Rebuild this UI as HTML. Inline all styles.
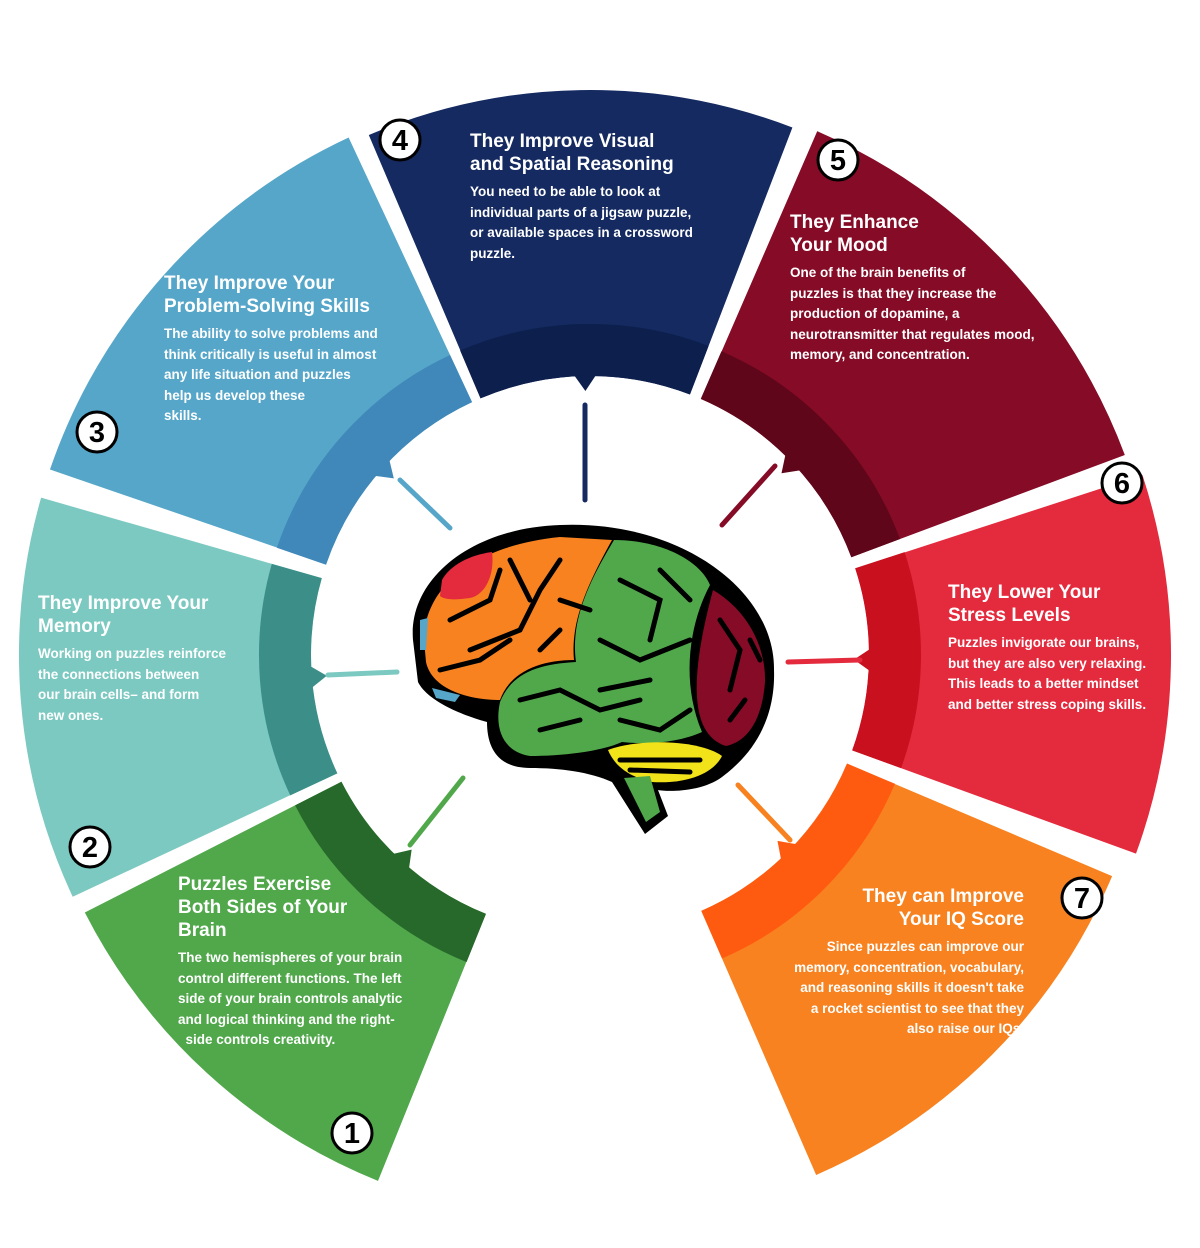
<!DOCTYPE html>
<html><head><meta charset="utf-8"><style>
html,body{margin:0;padding:0;background:#fff;}
#w{position:relative;width:1200px;height:1248px;overflow:hidden;font-family:"Liberation Sans",sans-serif;}
svg{position:absolute;left:0;top:0}
.t{position:absolute;color:#fff;}
.h{font-weight:bold;font-size:19px;line-height:23px;}
.b{font-weight:bold;font-size:13.5px;line-height:20.5px;margin-top:6px;}
.r{text-align:right}
</style></head><body><div id="w">
<svg width="1200" height="1248" viewBox="0 0 1200 1248">
<g fill="none">
<circle cx="590" cy="655" r="423" pathLength="360" stroke="#50a84b" stroke-width="288" stroke-dasharray="41 319" transform="rotate(112 590 655)"/>
<circle cx="590" cy="655" r="425" pathLength="360" stroke="#7cc9c1" stroke-width="292" stroke-dasharray="41 319" transform="rotate(155 590 655)"/>
<circle cx="590" cy="655" r="425" pathLength="360" stroke="#56a6c9" stroke-width="292" stroke-dasharray="46 314" transform="rotate(199 590 655)"/>
<circle cx="590" cy="655" r="422" pathLength="360" stroke="#142a60" stroke-width="286" stroke-dasharray="44 316" transform="rotate(247 590 655)"/>
<circle cx="590" cy="655" r="425" pathLength="360" stroke="#850b26" stroke-width="292" stroke-dasharray="46 314" transform="rotate(293.5 590 655)"/>
<circle cx="590" cy="655" r="430" pathLength="360" stroke="#e42a3d" stroke-width="302" stroke-dasharray="38 322" transform="rotate(342 590 655)"/>
<circle cx="590" cy="655" r="423" pathLength="360" stroke="#f7821f" stroke-width="288" stroke-dasharray="43.5 316.5" transform="rotate(23 590 655)"/>

<circle cx="590" cy="655" r="305" pathLength="360" stroke="#27682b" stroke-width="52" stroke-dasharray="41 319" transform="rotate(112 590 655)"/>
<circle cx="590" cy="655" r="305" pathLength="360" stroke="#3c8f88" stroke-width="52" stroke-dasharray="41 319" transform="rotate(155 590 655)"/>
<circle cx="590" cy="655" r="305" pathLength="360" stroke="#3f88b9" stroke-width="52" stroke-dasharray="46 314" transform="rotate(199 590 655)"/>
<circle cx="590" cy="655" r="305" pathLength="360" stroke="#0d1f4c" stroke-width="52" stroke-dasharray="44 316" transform="rotate(247 590 655)"/>
<circle cx="590" cy="655" r="305" pathLength="360" stroke="#5f061a" stroke-width="52" stroke-dasharray="46 314" transform="rotate(293.5 590 655)"/>
<circle cx="590" cy="655" r="305" pathLength="360" stroke="#c8101f" stroke-width="52" stroke-dasharray="38 322" transform="rotate(342 590 655)"/>
<circle cx="590" cy="655" r="305" pathLength="360" stroke="#ff5b10" stroke-width="52" stroke-dasharray="43.5 316.5" transform="rotate(23 590 655)"/>
</g>
<g>
<polygon points="280,-11 280,11 264,0" fill="#27682b" transform="translate(590 655) rotate(132.5)"/>
<polygon points="280,-11 280,11 264,0" fill="#3c8f88" transform="translate(590 655) rotate(175.5)"/>
<polygon points="280,-11 280,11 264,0" fill="#3f88b9" transform="translate(590 655) rotate(222)"/>
<polygon points="280,-11 280,11 264,0" fill="#0d1f4c" transform="translate(590 655) rotate(269)"/>
<polygon points="280,-11 280,11 264,0" fill="#5f061a" transform="translate(590 655) rotate(316.5)"/>
<polygon points="280,-11 280,11 264,0" fill="#c8101f" transform="translate(590 655) rotate(1)"/>
<polygon points="280,-11 280,11 264,0" fill="#ff5b10" transform="translate(590 655) rotate(44.75)"/>
</g>
<g stroke-width="5" stroke-linecap="round">
<line x1="410" y1="845" x2="463" y2="778" stroke="#50a84b"/>
<line x1="328" y1="675" x2="397" y2="672" stroke="#7cc9c1"/>
<line x1="400" y1="480" x2="450" y2="528" stroke="#56a6c9"/>
<line x1="585" y1="405" x2="585" y2="500" stroke="#142a60"/>
<line x1="722" y1="525" x2="775" y2="466" stroke="#850b26"/>
<line x1="788" y1="662" x2="860" y2="660" stroke="#e42a3d"/>
<line x1="738" y1="785" x2="790" y2="840" stroke="#f7821f"/>
</g>
<!-- brain -->
<path d="M413,640 C408,580 470,528 560,525 C680,520 775,590 774,670 C776,730 742,762 722,777 C702,792 668,792 658,790 L668,816 L645,834 L612,782 C590,772 560,768 530,768 C498,768 487,748 487,722 C465,716 428,702 418,682 Z" fill="#000"/>
<path d="M424,640 C424,590 470,546 560,537 L612,540 C590,580 570,620 574,660 C540,660 510,672 500,700 C470,700 432,690 426,662 Z" fill="#f7821f"/>
<path d="M442,580 C450,565 470,555 492,552 C495,575 485,595 470,598 C455,600 445,600 440,596 Z" fill="#e42a3d"/>
<path d="M420,620 L428,618 L426,650 L420,650Z M432,688 L460,695 L455,702 L436,698Z" fill="#56a6c9"/>
<path d="M614,540 C660,540 700,560 710,585 C690,622 680,680 702,732 C680,742 650,745 622,742 C600,752 560,756 530,756 C504,752 494,730 500,702 C512,672 540,664 576,662 C570,620 590,580 614,540 Z" fill="#50a84b"/>
<path d="M713,590 C750,612 766,650 765,682 C762,722 746,742 726,746 C694,736 686,690 713,590 Z" fill="#850b26"/>
<path d="M608,750 C640,738 700,740 722,756 C712,776 682,784 652,782 C630,777 615,767 608,750Z" fill="#f2e21a"/>
<path d="M624,778 L650,776 L660,812 L646,822 Z" fill="#50a84b"/>
<g stroke="#000" stroke-width="5" fill="none" stroke-linecap="round">
<path d="M450,620 L490,600 L500,570 M470,650 L520,630 L540,590 L560,560 M510,560 L530,600 M440,670 L480,660 L510,640 M560,600 L590,610 M540,650 L560,630"/>
<path d="M620,580 L660,600 L650,640 M600,640 L640,660 L690,640 M520,700 L560,690 L600,710 L640,700 M540,730 L580,720 M620,720 L660,730 L690,710 M660,570 L690,600 M600,690 L650,680"/>
<path d="M720,620 L740,650 L730,690 M745,700 L730,720 M750,640 L760,660"/>
<path d="M620,760 L700,760 M630,770 L690,772"/>
</g>
</svg>

<div class="t" style="left:470px;top:130px;width:290px"><div class="h">They Improve Visual<br>and Spatial Reasoning</div><div class="b">You need to be able to look at<br>individual parts of a jigsaw puzzle,<br>or available spaces in a crossword<br>puzzle.</div></div>
<div class="t" style="left:164px;top:272px;width:260px"><div class="h">They Improve Your<br>Problem-Solving Skills</div><div class="b">The ability to solve problems and<br>think critically is useful in almost<br>any life situation and puzzles<br>help us develop these<br>skills.</div></div>
<div class="t" style="left:790px;top:211px;width:300px"><div class="h">They Enhance<br>Your Mood</div><div class="b">One of the brain benefits of<br>puzzles is that they increase the<br>production of dopamine, a<br>neurotransmitter that regulates mood,<br>memory, and concentration.</div></div>
<div class="t" style="left:38px;top:592px;width:240px"><div class="h">They Improve Your<br>Memory</div><div class="b">Working on puzzles reinforce<br>the connections between<br>our brain cells– and form<br>new ones.</div></div>
<div class="t" style="left:948px;top:581px;width:240px"><div class="h">They Lower Your<br>Stress Levels</div><div class="b">Puzzles invigorate our brains,<br>but they are also very relaxing.<br>This leads to a better mindset<br>and better stress coping skills.</div></div>
<div class="t" style="left:178px;top:873px;width:270px"><div class="h">Puzzles Exercise<br>Both Sides of Your<br>Brain</div><div class="b">The two hemispheres of your brain<br>control different functions. The left<br>side of your brain controls analytic<br>and logical thinking and the right-<br>&nbsp;&nbsp;side controls creativity.</div></div>
<div class="t r" style="left:730px;top:885px;width:294px"><div class="h">They can Improve<br>Your IQ Score</div><div class="b">Since puzzles can improve our<br>memory, concentration, vocabulary,<br>and reasoning skills it doesn't take<br>a rocket scientist to see that they<br>also raise our IQs.</div></div>

<svg width="1200" height="1248" style="pointer-events:none">
<g stroke="#000" stroke-width="3" fill="#fff">
<circle cx="352" cy="1133" r="20"/><circle cx="90" cy="847" r="20"/><circle cx="97" cy="432" r="20"/><circle cx="400" cy="140" r="20"/><circle cx="838" cy="160" r="20"/><circle cx="1122" cy="483" r="20"/><circle cx="1082" cy="898" r="20"/>
</g>
<g font-family="Liberation Sans,sans-serif" font-weight="bold" font-size="29" text-anchor="middle" fill="#000">
<text x="352" y="1143">1</text><text x="90" y="857">2</text><text x="97" y="442">3</text><text x="400" y="150">4</text><text x="838" y="170">5</text><text x="1122" y="493">6</text><text x="1082" y="908">7</text>
</g>
</svg>
</div></body></html>
